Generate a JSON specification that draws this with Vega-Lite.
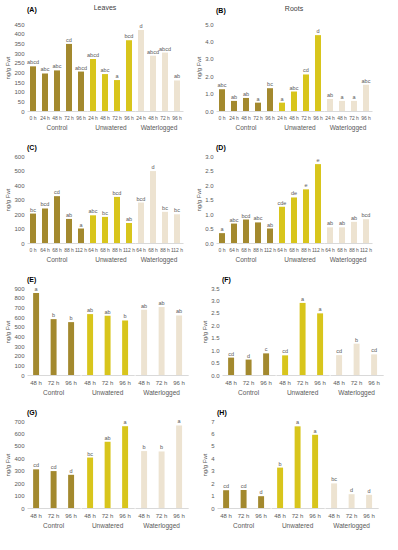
{
  "$schema": "https://vega.github.io/schema/vega-lite/v6.json",
  "padding": {"left": 4, "right": 4, "top": 4, "bottom": 2},
  "background": "white",
  "datasets": {
    "A": [
      {"group": "Control", "time": "0 h", "value": 231, "sig": "abcd"},
      {"group": "Control", "time": "24 h", "value": 194, "sig": "abc"},
      {"group": "Control", "time": "48 h", "value": 210, "sig": "abc"},
      {"group": "Control", "time": "72 h", "value": 347, "sig": "cd"},
      {"group": "Control", "time": "96 h", "value": 204, "sig": "abcd"},
      {"group": "Unwatered", "time": "24 h", "value": 269, "sig": "abcd"},
      {"group": "Unwatered", "time": "48 h", "value": 191, "sig": "abc"},
      {"group": "Unwatered", "time": "72 h", "value": 160, "sig": "a"},
      {"group": "Unwatered", "time": "96 h", "value": 366, "sig": "bcd"},
      {"group": "Waterlogged", "time": "24 h", "value": 419, "sig": "d"},
      {"group": "Waterlogged", "time": "48 h", "value": 286, "sig": "abcd"},
      {"group": "Waterlogged", "time": "72 h", "value": 302, "sig": "abcd"},
      {"group": "Waterlogged", "time": "96 h", "value": 158, "sig": "ab"}
    ],
    "B": [
      {"group": "Control", "time": "0 h", "value": 1.25, "sig": "abc"},
      {"group": "Control", "time": "24 h", "value": 0.58, "sig": "ab"},
      {"group": "Control", "time": "48 h", "value": 0.75, "sig": "ab"},
      {"group": "Control", "time": "72 h", "value": 0.48, "sig": "a"},
      {"group": "Control", "time": "96 h", "value": 1.31, "sig": "bc"},
      {"group": "Unwatered", "time": "24 h", "value": 0.48, "sig": "a"},
      {"group": "Unwatered", "time": "48 h", "value": 1.12, "sig": "abc"},
      {"group": "Unwatered", "time": "72 h", "value": 2.1, "sig": "cd"},
      {"group": "Unwatered", "time": "96 h", "value": 4.36, "sig": "d"},
      {"group": "Waterlogged", "time": "24 h", "value": 0.69, "sig": "ab"},
      {"group": "Waterlogged", "time": "48 h", "value": 0.58, "sig": "a"},
      {"group": "Waterlogged", "time": "72 h", "value": 0.58, "sig": "a"},
      {"group": "Waterlogged", "time": "96 h", "value": 1.51, "sig": "abc"}
    ],
    "C": [
      {"group": "Control", "time": "0 h", "value": 203, "sig": "bc"},
      {"group": "Control", "time": "64 h", "value": 238, "sig": "bcd"},
      {"group": "Control", "time": "68 h", "value": 323, "sig": "cd"},
      {"group": "Control", "time": "88 h", "value": 166, "sig": "ab"},
      {"group": "Control", "time": "112 h", "value": 100, "sig": "a"},
      {"group": "Unwatered", "time": "64 h", "value": 191, "sig": "abc"},
      {"group": "Unwatered", "time": "68 h", "value": 180, "sig": "bc"},
      {"group": "Unwatered", "time": "88 h", "value": 318, "sig": "bcd"},
      {"group": "Unwatered", "time": "112 h", "value": 138, "sig": "ab"},
      {"group": "Waterlogged", "time": "64 h", "value": 279, "sig": "bcd"},
      {"group": "Waterlogged", "time": "68 h", "value": 496, "sig": "d"},
      {"group": "Waterlogged", "time": "88 h", "value": 215, "sig": "bc"},
      {"group": "Waterlogged", "time": "112 h", "value": 198, "sig": "bc"}
    ],
    "D": [
      {"group": "Control", "time": "0 h", "value": 0.34, "sig": "a"},
      {"group": "Control", "time": "64 h", "value": 0.67, "sig": "abc"},
      {"group": "Control", "time": "68 h", "value": 0.81, "sig": "bcd"},
      {"group": "Control", "time": "88 h", "value": 0.71, "sig": "abc"},
      {"group": "Control", "time": "112 h", "value": 0.5, "sig": "ab"},
      {"group": "Unwatered", "time": "64 h", "value": 1.25, "sig": "cde"},
      {"group": "Unwatered", "time": "68 h", "value": 1.57, "sig": "de"},
      {"group": "Unwatered", "time": "88 h", "value": 1.85, "sig": "e"},
      {"group": "Unwatered", "time": "112 h", "value": 2.72, "sig": "e"},
      {"group": "Waterlogged", "time": "64 h", "value": 0.54, "sig": "ab"},
      {"group": "Waterlogged", "time": "68 h", "value": 0.54, "sig": "ab"},
      {"group": "Waterlogged", "time": "88 h", "value": 0.73, "sig": "ab"},
      {"group": "Waterlogged", "time": "112 h", "value": 0.82, "sig": "bcd"}
    ],
    "E": [
      {"group": "Control", "time": "48 h", "value": 848, "sig": "a"},
      {"group": "Control", "time": "72 h", "value": 578, "sig": "b"},
      {"group": "Control", "time": "96 h", "value": 547, "sig": "b"},
      {"group": "Unwatered", "time": "48 h", "value": 630, "sig": "ab"},
      {"group": "Unwatered", "time": "72 h", "value": 613, "sig": "ab"},
      {"group": "Unwatered", "time": "96 h", "value": 564, "sig": "b"},
      {"group": "Waterlogged", "time": "48 h", "value": 675, "sig": "ab"},
      {"group": "Waterlogged", "time": "72 h", "value": 703, "sig": "ab"},
      {"group": "Waterlogged", "time": "96 h", "value": 616, "sig": "ab"}
    ],
    "F": [
      {"group": "Control", "time": "48 h", "value": 0.7, "sig": "cd"},
      {"group": "Control", "time": "72 h", "value": 0.62, "sig": "d"},
      {"group": "Control", "time": "96 h", "value": 0.87, "sig": "c"},
      {"group": "Unwatered", "time": "48 h", "value": 0.79, "sig": "cd"},
      {"group": "Unwatered", "time": "72 h", "value": 2.9, "sig": "a"},
      {"group": "Unwatered", "time": "96 h", "value": 2.48, "sig": "a"},
      {"group": "Waterlogged", "time": "48 h", "value": 0.8, "sig": "cd"},
      {"group": "Waterlogged", "time": "72 h", "value": 1.26, "sig": "b"},
      {"group": "Waterlogged", "time": "96 h", "value": 0.83, "sig": "cd"}
    ],
    "G": [
      {"group": "Control", "time": "48 h", "value": 311, "sig": "cd"},
      {"group": "Control", "time": "72 h", "value": 297, "sig": "cd"},
      {"group": "Control", "time": "96 h", "value": 267, "sig": "d"},
      {"group": "Unwatered", "time": "48 h", "value": 406, "sig": "bc"},
      {"group": "Unwatered", "time": "72 h", "value": 533, "sig": "ab"},
      {"group": "Unwatered", "time": "96 h", "value": 658, "sig": "a"},
      {"group": "Waterlogged", "time": "48 h", "value": 458, "sig": "b"},
      {"group": "Waterlogged", "time": "72 h", "value": 455, "sig": "b"},
      {"group": "Waterlogged", "time": "96 h", "value": 664, "sig": "a"}
    ],
    "H": [
      {"group": "Control", "time": "48 h", "value": 1.43, "sig": "cd"},
      {"group": "Control", "time": "72 h", "value": 1.45, "sig": "cd"},
      {"group": "Control", "time": "96 h", "value": 0.95, "sig": "d"},
      {"group": "Unwatered", "time": "48 h", "value": 3.25, "sig": "b"},
      {"group": "Unwatered", "time": "72 h", "value": 6.57, "sig": "a"},
      {"group": "Unwatered", "time": "96 h", "value": 5.89, "sig": "a"},
      {"group": "Waterlogged", "time": "48 h", "value": 1.98, "sig": "bc"},
      {"group": "Waterlogged", "time": "72 h", "value": 1.11, "sig": "d"},
      {"group": "Waterlogged", "time": "96 h", "value": 1.06, "sig": "d"}
    ]
  },
  "vconcat": [
    {"hconcat": [
      {
        "title": {"text": "(A)", "dy": 11},
        "data": {"name": "A"},
        "facet": {"column": {"field": "group", "type": "nominal", "title": "Leaves"}},
        "spec": {
          "width": {"step": 12}, "height": 87,
          "encoding": {
            "x": {"field": "time", "type": "nominal", "sort": null, "scale": {"paddingInner": 0.5, "paddingOuter": 0.25}, "axis": {"labelFontSize": 5, "labelOverlap": false}},
            "y": {"field": "value", "type": "quantitative", "title": "ng/g Fwt", "scale": {"domain": [0, 450], "nice": false}, "axis": {"values": [0, 50, 100, 150, 200, 250, 300, 350, 400, 450]}}
          },
          "layer": [
            {"mark": {"type": "bar"}, "encoding": {"color": {"field": "group", "type": "nominal", "legend": null, "scale": {"domain": ["Control", "Unwatered", "Waterlogged"], "range": ["#a3892e", "#d8c51c", "#ede3d1"]}}}},
            {"mark": {"type": "text", "dy": -4, "fontSize": 5.5, "color": "#595959"}, "encoding": {"text": {"field": "sig"}}}
          ]
        },
        "resolve": {"scale": {"x": "independent"}}
      },
      {
        "title": {"text": "(B)", "dy": 11},
        "data": {"name": "B"},
        "facet": {"column": {"field": "group", "type": "nominal", "title": "Roots"}},
        "spec": {
          "width": {"step": 12}, "height": 87,
          "encoding": {
            "x": {"field": "time", "type": "nominal", "sort": null, "scale": {"paddingInner": 0.5, "paddingOuter": 0.25}, "axis": {"labelFontSize": 5, "labelOverlap": false}},
            "y": {"field": "value", "type": "quantitative", "title": "ng/g Fwt", "scale": {"domain": [0, 5], "nice": false}, "axis": {"values": [0, 1, 2, 3, 4, 5], "format": ".1f"}}
          },
          "layer": [
            {"mark": {"type": "bar"}, "encoding": {"color": {"field": "group", "type": "nominal", "legend": null, "scale": {"domain": ["Control", "Unwatered", "Waterlogged"], "range": ["#a3892e", "#d8c51c", "#ede3d1"]}}}},
            {"mark": {"type": "text", "dy": -4, "fontSize": 5.5, "color": "#595959"}, "encoding": {"text": {"field": "sig"}}}
          ]
        },
        "resolve": {"scale": {"x": "independent"}}
      }
    ]},
    {"hconcat": [
      {
        "title": {"text": "(C)"},
        "data": {"name": "C"},
        "facet": {"column": {"field": "group", "type": "nominal", "title": null}},
        "spec": {
          "width": {"step": 12}, "height": 87,
          "encoding": {
            "x": {"field": "time", "type": "nominal", "sort": null, "scale": {"paddingInner": 0.5, "paddingOuter": 0.25}, "axis": {"labelFontSize": 5, "labelOverlap": false}},
            "y": {"field": "value", "type": "quantitative", "title": "ng/g Fwt", "scale": {"domain": [0, 600], "nice": false}, "axis": {"values": [0, 100, 200, 300, 400, 500, 600]}}
          },
          "layer": [
            {"mark": {"type": "bar"}, "encoding": {"color": {"field": "group", "type": "nominal", "legend": null, "scale": {"domain": ["Control", "Unwatered", "Waterlogged"], "range": ["#a3892e", "#d8c51c", "#ede3d1"]}}}},
            {"mark": {"type": "text", "dy": -4, "fontSize": 5.5, "color": "#595959"}, "encoding": {"text": {"field": "sig"}}}
          ]
        },
        "resolve": {"scale": {"x": "independent"}}
      },
      {
        "title": {"text": "(D)"},
        "data": {"name": "D"},
        "facet": {"column": {"field": "group", "type": "nominal", "title": null}},
        "spec": {
          "width": {"step": 12}, "height": 87,
          "encoding": {
            "x": {"field": "time", "type": "nominal", "sort": null, "scale": {"paddingInner": 0.5, "paddingOuter": 0.25}, "axis": {"labelFontSize": 5, "labelOverlap": false}},
            "y": {"field": "value", "type": "quantitative", "title": "ng/g Fwt", "scale": {"domain": [0, 3], "nice": false}, "axis": {"values": [0, 0.5, 1, 1.5, 2, 2.5, 3], "format": ".1f"}}
          },
          "layer": [
            {"mark": {"type": "bar"}, "encoding": {"color": {"field": "group", "type": "nominal", "legend": null, "scale": {"domain": ["Control", "Unwatered", "Waterlogged"], "range": ["#a3892e", "#d8c51c", "#ede3d1"]}}}},
            {"mark": {"type": "text", "dy": -4, "fontSize": 5.5, "color": "#595959"}, "encoding": {"text": {"field": "sig"}}}
          ]
        },
        "resolve": {"scale": {"x": "independent"}}
      }
    ]},
    {"hconcat": [
      {
        "title": {"text": "(E)"},
        "data": {"name": "E"},
        "facet": {"column": {"field": "group", "type": "nominal", "title": null}},
        "spec": {
          "width": {"step": 17.5}, "height": 87,
          "encoding": {
            "x": {"field": "time", "type": "nominal", "sort": null, "scale": {"paddingInner": 0.66, "paddingOuter": 0.35}},
            "y": {"field": "value", "type": "quantitative", "title": "ng/g Fwt", "scale": {"domain": [0, 900], "nice": false}, "axis": {"values": [0, 100, 200, 300, 400, 500, 600, 700, 800, 900]}}
          },
          "layer": [
            {"mark": {"type": "bar"}, "encoding": {"color": {"field": "group", "type": "nominal", "legend": null, "scale": {"domain": ["Control", "Unwatered", "Waterlogged"], "range": ["#a3892e", "#d8c51c", "#ede3d1"]}}}},
            {"mark": {"type": "text", "dy": -4, "fontSize": 5.5, "color": "#595959"}, "encoding": {"text": {"field": "sig"}}}
          ]
        },
        "resolve": {"scale": {"x": "independent"}}
      },
      {
        "title": {"text": "(F)"},
        "data": {"name": "F"},
        "facet": {"column": {"field": "group", "type": "nominal", "title": null}},
        "spec": {
          "width": {"step": 17.5}, "height": 87,
          "encoding": {
            "x": {"field": "time", "type": "nominal", "sort": null, "scale": {"paddingInner": 0.66, "paddingOuter": 0.35}},
            "y": {"field": "value", "type": "quantitative", "title": "ng/g Fwt", "scale": {"domain": [0, 3.5], "nice": false}, "axis": {"values": [0, 0.5, 1, 1.5, 2, 2.5, 3, 3.5], "format": ".1f"}}
          },
          "layer": [
            {"mark": {"type": "bar"}, "encoding": {"color": {"field": "group", "type": "nominal", "legend": null, "scale": {"domain": ["Control", "Unwatered", "Waterlogged"], "range": ["#a3892e", "#d8c51c", "#ede3d1"]}}}},
            {"mark": {"type": "text", "dy": -4, "fontSize": 5.5, "color": "#595959"}, "encoding": {"text": {"field": "sig"}}}
          ]
        },
        "resolve": {"scale": {"x": "independent"}}
      }
    ]},
    {"hconcat": [
      {
        "title": {"text": "(G)"},
        "data": {"name": "G"},
        "facet": {"column": {"field": "group", "type": "nominal", "title": null}},
        "spec": {
          "width": {"step": 17.5}, "height": 87,
          "encoding": {
            "x": {"field": "time", "type": "nominal", "sort": null, "scale": {"paddingInner": 0.66, "paddingOuter": 0.35}},
            "y": {"field": "value", "type": "quantitative", "title": "ng/g Fwt", "scale": {"domain": [0, 700], "nice": false}, "axis": {"values": [0, 100, 200, 300, 400, 500, 600, 700]}}
          },
          "layer": [
            {"mark": {"type": "bar"}, "encoding": {"color": {"field": "group", "type": "nominal", "legend": null, "scale": {"domain": ["Control", "Unwatered", "Waterlogged"], "range": ["#a3892e", "#d8c51c", "#ede3d1"]}}}},
            {"mark": {"type": "text", "dy": -4, "fontSize": 5.5, "color": "#595959"}, "encoding": {"text": {"field": "sig"}}}
          ]
        },
        "resolve": {"scale": {"x": "independent"}}
      },
      {
        "title": {"text": "(H)"},
        "data": {"name": "H"},
        "facet": {"column": {"field": "group", "type": "nominal", "title": null}},
        "spec": {
          "width": {"step": 17.5}, "height": 87,
          "encoding": {
            "x": {"field": "time", "type": "nominal", "sort": null, "scale": {"paddingInner": 0.66, "paddingOuter": 0.35}},
            "y": {"field": "value", "type": "quantitative", "title": "ng/g Fwt", "scale": {"domain": [0, 7], "nice": false}, "axis": {"values": [0, 1, 2, 3, 4, 5, 6, 7]}}
          },
          "layer": [
            {"mark": {"type": "bar"}, "encoding": {"color": {"field": "group", "type": "nominal", "legend": null, "scale": {"domain": ["Control", "Unwatered", "Waterlogged"], "range": ["#a3892e", "#d8c51c", "#ede3d1"]}}}},
            {"mark": {"type": "text", "dy": -4, "fontSize": 5.5, "color": "#595959"}, "encoding": {"text": {"field": "sig"}}}
          ]
        },
        "resolve": {"scale": {"x": "independent"}}
      }
    ]}
  ],
  "config": {
    "font": "Liberation Sans",
    "view": {"stroke": null},
    "facet": {"spacing": 0},
    "concat": {"spacing": 12},
    "vconcat": {"spacing": 19},
    "axis": {"labelFontSize": 6, "labelColor": "#595959", "titleFontSize": 6, "titleColor": "#595959", "titleFontWeight": "normal", "grid": false, "domainColor": "#d9d9d9", "tickColor": "#d9d9d9"},
    "axisY": {"domain": false, "ticks": false, "labelPadding": 3, "titlePadding": 3},
    "axisX": {"labelAngle": 0, "title": null, "ticks": false, "labelPadding": 4},
    "header": {"labelFontSize": 6.5, "labelColor": "#595959", "labelOrient": "bottom", "labelPadding": 5, "titleFontSize": 7, "titleColor": "#404040", "titleFontWeight": "normal", "titlePadding": 2},
    "title": {"fontSize": 7, "fontWeight": "bold", "anchor": "start", "frame": "group", "color": "#000000", "offset": 2}
  }
}
